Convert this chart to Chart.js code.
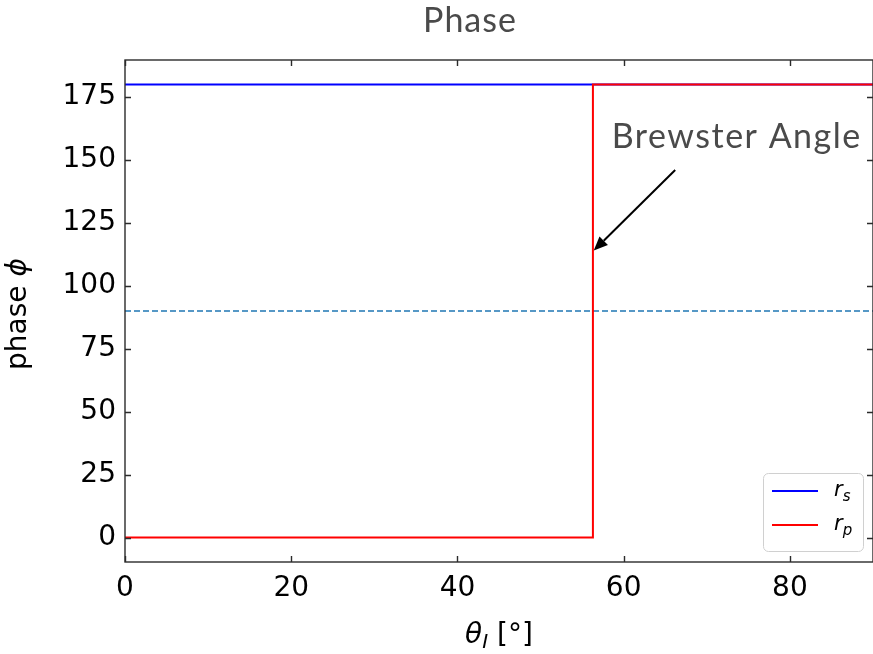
<!DOCTYPE html>
<html>
<head>
<meta charset="utf-8">
<title>Phase</title>
<script src="https://cdn.jsdelivr.net/npm/chart.js@4.4.1/dist/chart.umd.min.js"></script>
<style>
  html, body { margin: 0; padding: 0; background: #fff; overflow: hidden; }
  #wrap { width: 873px; height: 654px; overflow: hidden; }
</style>
</head>
<body>
<div id="wrap"><canvas id="phaseChart" width="940" height="654"></canvas></div>
<script>
'use strict';

// ── Data ───────────────────────────────────────
const BREWSTER = 56.3;                       // deg, n = 1.5
const RS_X = [0, 90];
const RS_Y = [180, 180];
const RP_X = [0, BREWSTER, BREWSTER, 90];
const RP_Y = [0, 0, 180, 180];
const REF_X = [0, 90];
const REF_Y = [90, 90];

const X_TICKS = [0, 20, 40, 60, 80];
const Y_TICKS = [0, 25, 50, 75, 100, 125, 150, 175];

const ANNOT_TEXT = 'Brewster Angle';
const ANNOT_TIP  = [56.4, 114];
const ANNOT_TAIL = [66.2, 146];
const ANNOT_POS  = [73.6, 159];

// ── Styles ─────────────────────────────────────
const LABEL_FONT = '"DejaVu Sans"';
const TITLE_FONT = '34px Lato';
const GREY_TEXT  = '#4a4a4a';
const SPINE      = '#2b2b2b';
const TICK_FONT  = { family: '"DejaVu Sans", sans-serif', size: 28 };

const pts = (xs, ys) => xs.map((x, i) => ({ x, y: ys[i] }));

// ── Frame, titles, annotation, legend ──────────
const framePlugin = {
  id: 'frame',
  afterDraw(chart) {
    const { ctx, chartArea: a, scales } = chart;
    const xs = scales.x, ys = scales.y;
    ctx.save();

    // spines
    ctx.strokeStyle = SPINE;
    ctx.lineWidth = 1.4;
    ctx.strokeRect(a.left, a.top, a.right - a.left, a.bottom - a.top);

    // inward ticks on all four sides
    const tl = 6;
    ctx.beginPath();
    xs.ticks.forEach(t => {
      const px = Math.round(xs.getPixelForValue(t.value)) + 0.5;
      ctx.moveTo(px, a.bottom); ctx.lineTo(px, a.bottom - tl);
      ctx.moveTo(px, a.top);    ctx.lineTo(px, a.top + tl);
    });
    ys.ticks.forEach(t => {
      const py = Math.round(ys.getPixelForValue(t.value)) + 0.5;
      ctx.moveTo(a.left, py);  ctx.lineTo(a.left + tl, py);
      ctx.moveTo(a.right, py); ctx.lineTo(a.right - tl, py);
    });
    ctx.stroke();

    // title
    ctx.fillStyle = GREY_TEXT;
    ctx.font = TITLE_FONT;
    if ('letterSpacing' in ctx) ctx.letterSpacing = '1px';
    ctx.textAlign = 'center';
    ctx.textBaseline = 'middle';
    ctx.fillText('Phase', chart.width / 2, 21);
    if ('letterSpacing' in ctx) ctx.letterSpacing = '0px';

    // y axis title
    ctx.fillStyle = '#000';
    ctx.save();
    ctx.translate(19, (a.top + a.bottom) / 2 + 3);
    ctx.rotate(-Math.PI / 2);
    ctx.font = '28px ' + LABEL_FONT;
    const w1 = ctx.measureText('phase ').width;
    ctx.font = 'italic 28px ' + LABEL_FONT;
    const w2 = ctx.measureText('\u03d5').width;
    ctx.textAlign = 'left';
    ctx.font = '28px ' + LABEL_FONT;
    ctx.fillText('phase ', -(w1 + w2) / 2, 0);
    ctx.font = 'italic 28px ' + LABEL_FONT;
    ctx.fillText('\u03d5', -(w1 + w2) / 2 + w1, 0);
    ctx.restore();

    // x axis title: theta_I [deg]
    {
      const cy = 636;
      ctx.textAlign = 'left';
      ctx.textBaseline = 'middle';
      ctx.font = 'italic 28px ' + LABEL_FONT;
      const wt = ctx.measureText('\u03b8').width;
      ctx.font = 'italic 20px ' + LABEL_FONT;
      const ws = ctx.measureText('I').width;
      ctx.font = '28px ' + LABEL_FONT;
      const wr = ctx.measureText(' [\u00b0]').width;
      let x = (a.left + a.right) / 2 - (wt + ws + wr) / 2;
      ctx.font = 'italic 28px ' + LABEL_FONT;
      ctx.fillText('\u03b8', x, cy); x += wt;
      ctx.font = 'italic 20px ' + LABEL_FONT;
      ctx.fillText('I', x, cy + 7); x += ws;
      ctx.font = '28px ' + LABEL_FONT;
      ctx.fillText(' [\u00b0]', x, cy);
    }

    // annotation
    const tipX = xs.getPixelForValue(ANNOT_TIP[0]), tipY = ys.getPixelForValue(ANNOT_TIP[1]);
    const tailX = xs.getPixelForValue(ANNOT_TAIL[0]), tailY = ys.getPixelForValue(ANNOT_TAIL[1]);
    const ang = Math.atan2(tipY - tailY, tipX - tailX);
    const hl = 14, hw = 6;
    const bx = tipX - hl * Math.cos(ang), by = tipY - hl * Math.sin(ang);
    ctx.strokeStyle = '#000';
    ctx.lineWidth = 2;
    ctx.beginPath();
    ctx.moveTo(tailX, tailY); ctx.lineTo(bx, by);
    ctx.stroke();
    ctx.fillStyle = '#000';
    ctx.beginPath();
    ctx.moveTo(tipX, tipY);
    ctx.lineTo(bx + hw * Math.sin(ang), by - hw * Math.cos(ang));
    ctx.lineTo(bx - hw * Math.sin(ang), by + hw * Math.cos(ang));
    ctx.closePath();
    ctx.fill();

    ctx.fillStyle = GREY_TEXT;
    ctx.font = TITLE_FONT;
    if ('letterSpacing' in ctx) ctx.letterSpacing = '1.5px';
    ctx.textAlign = 'center';
    ctx.textBaseline = 'middle';
    ctx.fillText(ANNOT_TEXT, xs.getPixelForValue(ANNOT_POS[0]), ys.getPixelForValue(ANNOT_POS[1]));
    if ('letterSpacing' in ctx) ctx.letterSpacing = '0px';

    // legend (lower right)
    const items = chart.data.datasets.filter(d => d.label);
    const bw = 100, bh = 78;
    const bxl = a.right - 10 - bw, byt = a.bottom - 11 - bh;
    ctx.beginPath();
    ctx.roundRect(bxl + 0.5, byt + 0.5, bw, bh, 5);
    ctx.fillStyle = 'rgba(255,255,255,0.8)';
    ctx.fill();
    ctx.strokeStyle = '#d0d0d0';
    ctx.lineWidth = 1;
    ctx.stroke();
    items.forEach((d, i) => {
      const ly = byt + 18 + i * 34;
      ctx.strokeStyle = d.borderColor;
      ctx.lineWidth = 2;
      ctx.beginPath();
      ctx.moveTo(bxl + 9, ly); ctx.lineTo(bxl + 55, ly);
      ctx.stroke();
      const [base, sub] = d.label.split('_');
      ctx.fillStyle = '#000';
      ctx.textAlign = 'left';
      ctx.textBaseline = 'middle';
      ctx.font = 'italic 21px ' + LABEL_FONT;
      ctx.fillText(base, bxl + 71, ly);
      const wb = ctx.measureText(base).width;
      ctx.font = 'italic 15px ' + LABEL_FONT;
      ctx.fillText(sub, bxl + 71 + wb, ly + 6);
    });

    ctx.restore();
  },
};

// ── Chart ──────────────────────────────────────
new Chart(document.getElementById('phaseChart'), {
  type: 'line',
  data: {
    datasets: [
      { label: 'r_s', data: pts(RS_X, RS_Y), borderColor: '#0000ff', borderWidth: 2, order: 1 },
      { label: 'r_p', data: pts(RP_X, RP_Y), borderColor: '#ff0000', borderWidth: 2, order: 0 },
      { data: pts(REF_X, REF_Y), borderColor: '#1f77b4', borderWidth: 1.5, borderDash: [6, 3], order: 2 },
    ].map(d => Object.assign({ pointRadius: 0, tension: 0, fill: false }, d)),
  },
  options: {
    responsive: false,
    animation: false,
    events: [],
    layout: { padding: { top: 60, right: 67, left: 0, bottom: 0 } },
    plugins: { legend: { display: false }, tooltip: { enabled: false }, title: { display: false } },
    scales: {
      x: {
        type: 'linear',
        min: 0, max: 90,
        afterFit: s => { s.height = 92; },
        afterBuildTicks: s => { s.ticks = X_TICKS.map(v => ({ value: v })); },
        grid: { display: false, drawTicks: false },
        border: { display: false },
        ticks: { font: TICK_FONT, color: '#000', padding: 10, maxRotation: 0 },
      },
      y: {
        type: 'linear',
        min: -9.7, max: 189.7,
        afterFit: s => { s.width = 125; },
        afterBuildTicks: s => { s.ticks = Y_TICKS.map(v => ({ value: v })); },
        grid: { display: false, drawTicks: false },
        border: { display: false },
        ticks: { font: TICK_FONT, color: '#000', padding: 9 },
      },
    },
  },
  plugins: [framePlugin],
});
</script>
</body>
</html>
